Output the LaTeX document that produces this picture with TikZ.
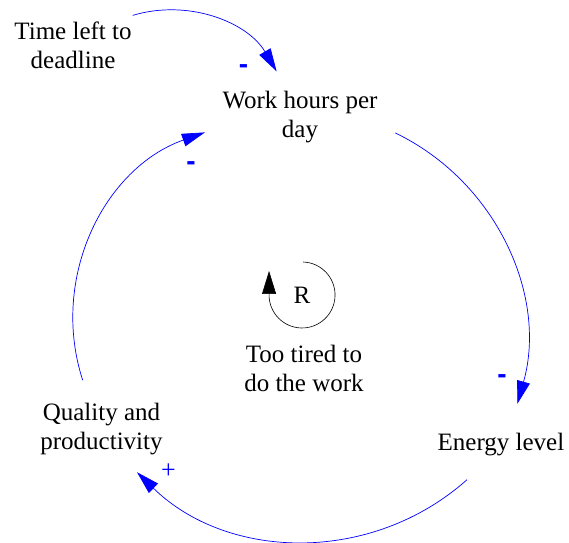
\documentclass[tikz,border=0pt]{standalone}
\usepackage{fontspec}
\setmainfont{Liberation Serif}
\newfontfamily\labelfont{Liberation Serif}
\newfontfamily\signfont{Liberation Sans}
\usetikzlibrary{arrows.meta}
\begin{document}
\begin{tikzpicture}[x=1pt,y=1pt,yscale=-1,
  lbl/.style={font=\labelfont\fontsize{25}{29}\selectfont, align=center, inner sep=0pt, text=black},
  link/.style={draw=blue, line width=0.7pt, -{Triangle[length=23pt,width=13pt]}},
  minus/.style={font=\signfont\bfseries\fontsize{28}{28}\selectfont, text=blue, inner sep=0pt, anchor=base},
  plus/.style={font=\labelfont\fontsize{26}{26}\selectfont, text=blue, inner sep=0pt},
  loop/.style={draw=black, line width=0.6pt, -{Triangle[length=23pt,width=14pt]}}
]
\useasboundingbox (0,0) rectangle (569,542);

\node[lbl] (time) at (73,45.5) {Time left to\\deadline};
\node[lbl] (work) at (300,117) {Work hours per\\day};
\node[lbl, anchor=base] (energy) at (501,450) {Energy level};
\node[lbl] (quality) at (101.5,429) {Quality and\\productivity};
\node[lbl] (tired) at (304,368.5) {Too tired to\\do the work};
\node[lbl] (R) at (302,295) {R};

\coordinate (a1s) at (132.7,15.4);
\coordinate (a2s) at (395.2,132.9);
\coordinate (a3s) at (467,479.7);
\coordinate (a4s) at (82.7,380.2);
\coordinate (rs) at (303.2,262);

\draw[link] (a1s) arc[start angle=-106.9, end angle=-30.6, radius=125pt];
\draw[link] (a2s) arc[start angle=-64.3, end angle=15.8, radius=231pt];
\draw[link] (a3s) arc[start angle=48.3, end angle=134.3, radius=242pt];
\draw[link] (a4s) arc[start angle=162, end angle=250.5, radius=198pt];

\draw[loop] (rs) arc[start angle=-88, end angle=180, radius=33pt] -- ++(0,-24);

\node[minus] (m1) at (243.5,73) {-};
\node[minus] (m2) at (191,170.5) {-};
\node[minus] (m3) at (502,383.5) {-};
\node[plus] (p1) at (168.5,471) {+};
\end{tikzpicture}
\end{document}
